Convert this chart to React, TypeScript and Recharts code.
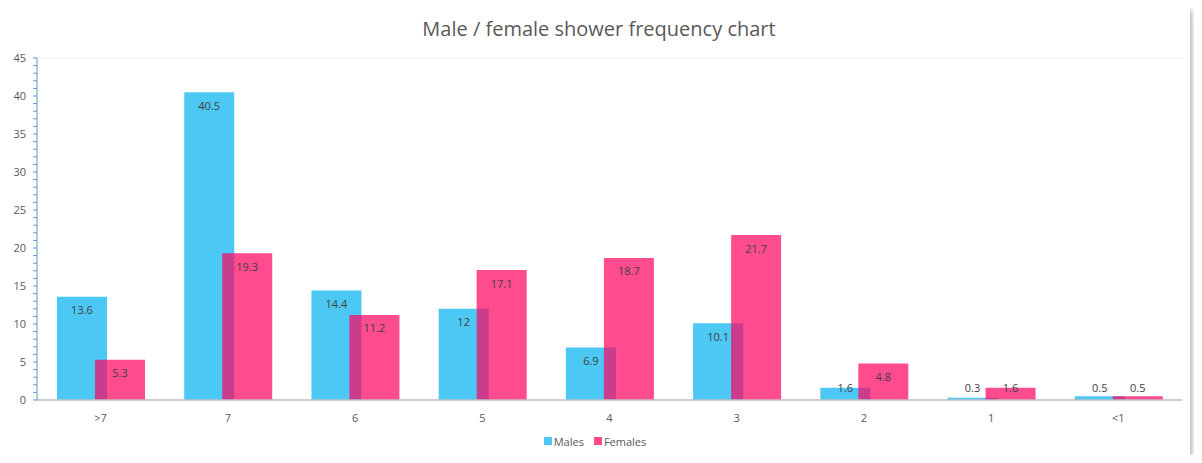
import { BarChart, Bar, XAxis, YAxis, CartesianGrid, Legend, LabelList } from 'recharts';

const categories = ['>7', '7', '6', '5', '4', '3', '2', '1', '<1'];
const males = [13.6, 40.5, 14.4, 12, 6.9, 10.1, 1.6, 0.3, 0.5];
const females = [5.3, 19.3, 11.2, 17.1, 18.7, 21.7, 4.8, 1.6, 0.5];
const yMajorTicks = [0, 5, 10, 15, 20, 25, 30, 35, 40, 45];

const data = categories.map((name, i) => ({ name, Males: males[i], Females: females[i] }));
const yMinorTicks = Array.from({ length: 46 }, (_, i) => i);

const FONT = '"Open Sans", "Noto Sans", sans-serif';
const MALE = '#4bc8f4';
const FEMALE = 'rgb(255, 3, 97)';

// Excel-style "inside end" label, kept above the baseline for short bars
function renderValue(props: any) {
  const { x, y, width, height, value } = props;
  const cy = Math.min(y + 13, y + height - 13);
  return (
    <text
      x={x + width / 2}
      y={cy}
      textAnchor="middle"
      dominantBaseline="central"
      fontSize={11}
      fontFamily={FONT}
      fill="#404040"
    >
      {value}
    </text>
  );
}

function LegendBox() {
  const items = [
    { label: 'Males', color: MALE, opacity: 1 },
    { label: 'Females', color: FEMALE, opacity: 0.71 },
  ];
  return (
    <div
      style={{
        display: 'flex',
        justifyContent: 'center',
        alignItems: 'center',
        height: 20,
        fontFamily: FONT,
        fontSize: 11,
        color: '#595959',
      }}
    >
      {items.map((it) => (
        <span key={it.label} style={{ display: 'flex', alignItems: 'center', margin: '0 5px' }}>
          <span
            style={{
              width: 8,
              height: 8,
              background: it.color,
              opacity: it.opacity,
              marginRight: 2,
              display: 'inline-block',
            }}
          />
          {it.label}
        </span>
      ))}
    </div>
  );
}

export default function App() {
  return (
    <div
      style={{
        position: 'relative',
        width: 1182,
        height: 447,
        background: '#fff',
        boxShadow: '1px 2px 6px rgba(0,0,0,0.4)',
      }}
    >
      <div
        style={{
          position: 'absolute',
          top: 7,
          left: 0,
          width: '100%',
          textAlign: 'center',
          fontFamily: FONT,
          fontSize: 20,
          color: '#595959',
        }}
      >
        Male / female shower frequency chart
      </div>
      <BarChart
        width={1182}
        height={447}
        data={data}
        margin={{ top: 50, right: 8, left: 0, bottom: 4 }}
        barSize={50}
        barGap={-12}
      >
        <CartesianGrid yAxisId="grid" vertical={false} stroke="#eeeeee" />
        <XAxis
          dataKey="name"
          height={31}
          tickLine={false}
          tickMargin={8}
          axisLine={{ stroke: '#bfbfbf', strokeWidth: 1.5 }}
          tick={{ fontSize: 11, fontFamily: FONT, fill: '#595959' }}
        />
        <YAxis
          width={29}
          domain={[0, 45]}
          ticks={yMinorTicks}
          interval={0}
          tickSize={4}
          tickMargin={7}
          tickFormatter={(v: number) => (v % 5 === 0 ? String(v) : '')}
          axisLine={{ stroke: '#5b9bd5' }}
          tickLine={{ stroke: '#5b9bd5' }}
          tick={{ fontSize: 11, fontFamily: FONT, fill: '#595959' }}
        />
        <YAxis yAxisId="grid" hide domain={[0, 45]} ticks={yMajorTicks} interval={0} />
        <Legend verticalAlign="bottom" content={() => <LegendBox />} />
        <Bar dataKey="Males" fill={MALE} isAnimationActive={false}>
          <LabelList dataKey="Males" content={renderValue} />
        </Bar>
        <Bar dataKey="Females" fill={FEMALE} fillOpacity={0.71} isAnimationActive={false}>
          <LabelList dataKey="Females" content={renderValue} />
        </Bar>
      </BarChart>
    </div>
  );
}
